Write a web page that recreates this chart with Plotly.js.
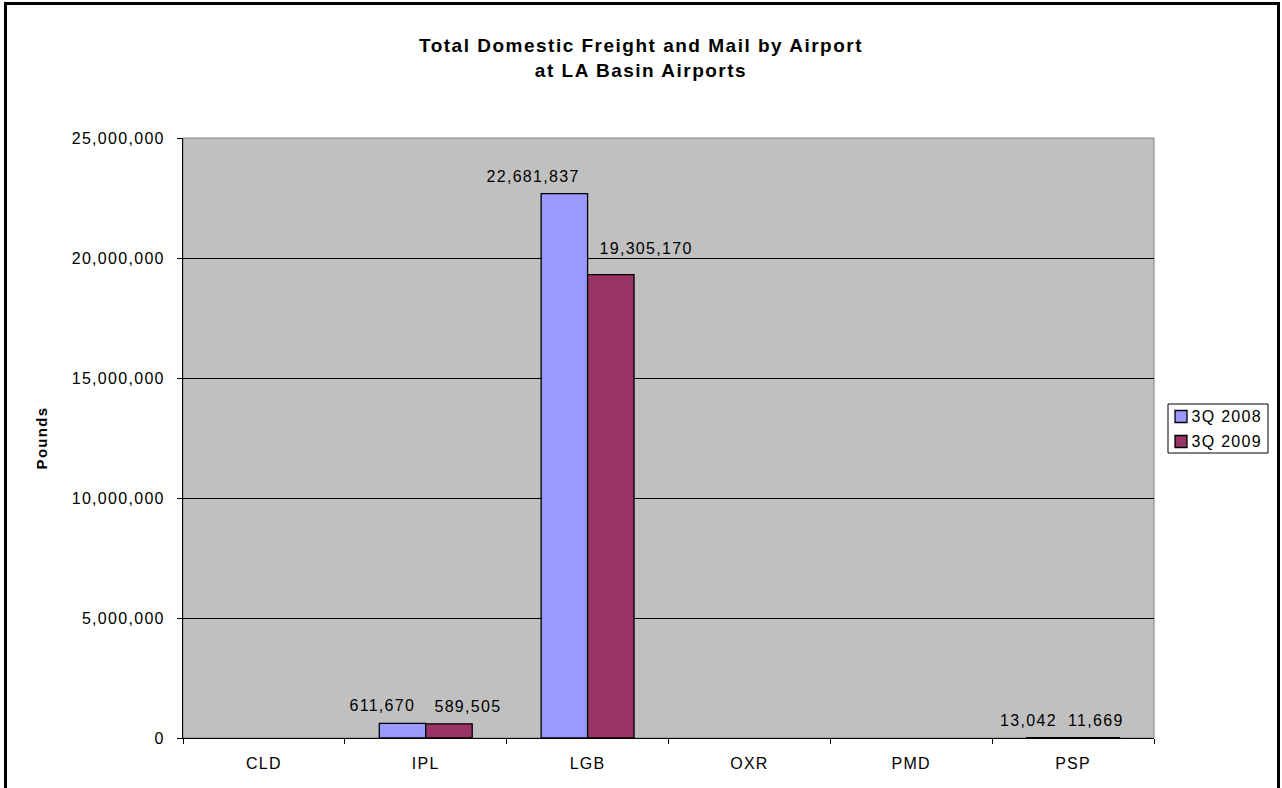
<!DOCTYPE html>
<html>
<head>
<meta charset="utf-8">
<script src="https://cdn.plot.ly/plotly-3.0.1.min.js"></script>
<style>
  html, body { margin: 0; padding: 0; background: #fff; overflow: hidden; }
  #chart { width: 1282px; height: 788px; }
  #chart text { letter-spacing: 1.3px; }
  #chart .gtitle { letter-spacing: 1.5px; }
  #frame { position: absolute; left: 4px; top: 2px; width: 1270px; height: 820px; border: 3px solid #000; pointer-events: none; }
</style>
</head>
<body>
<div id="chart"></div>
<div id="frame"></div>
<script>
const airports = ["CLD", "IPL", "LGB", "OXR", "PMD", "PSP"];
const q3_2008 = [null, 611670, 22681837, null, null, 13042];
const q3_2009 = [null, 589505, 19305170, null, null, 11669];
const seriesNames = ["3Q 2008", "3Q 2009"];
const seriesColors = ["#9999FF", "#993366"];

const FONT = "Arial, 'Liberation Sans', sans-serif";

const traces = [q3_2008, q3_2009].map((vals, i) => ({
  type: "bar",
  name: seriesNames[i],
  x: airports,
  y: vals,
  marker: { color: seriesColors[i], line: { color: "#000", width: 1.3 } },
  showlegend: false,
  hoverinfo: "x+y+name"
}));

// data labels as annotations (Excel labels are nudged sideways from the bar centres)
const fmt = v => v.toLocaleString("en-US");
const annotations = [];
const shift2008 = { IPL: -20, LGB: -32, PSP: -22 };
const shift2009 = { IPL: 19, LGB: 35, PSP: 0 };
const lift2009 = { IPL: 0, LGB: 9, PSP: 0 };
airports.forEach((a, k) => {
  if (q3_2008[k] != null) {
    annotations.push({ x: a, y: q3_2008[k], xref: "x", yref: "y", text: fmt(q3_2008[k]),
      showarrow: false, yanchor: "bottom", xshift: -23 + shift2008[a], yshift: 7,
      font: { family: FONT, size: 16, color: "#000" } });
  }
  if (q3_2009[k] != null) {
    annotations.push({ x: a, y: q3_2009[k], xref: "x", yref: "y", text: fmt(q3_2009[k]),
      showarrow: false, yanchor: "bottom", xshift: 23 + shift2009[a], yshift: 7 + lift2009[a],
      font: { family: FONT, size: 16, color: "#000" } });
  }
});

// custom compact legend (Excel style), placed in paper coordinates
const PL = 183, PW = 971, PB = 738, PH = 600;
const px = v => (v - PL) / PW;
const py = v => (PB - v) / PH;
const shapes = [{
  type: "rect", xref: "paper", yref: "paper", x0: 0, x1: 1, y0: 0, y1: 1,
  line: { color: "#808080", width: 1 }, layer: "below"
}, {
  type: "rect", xref: "paper", yref: "paper",
  x0: px(1168), x1: px(1268), y0: py(453), y1: py(404),
  fillcolor: "#fff", line: { color: "#000", width: 1 }
}];
seriesNames.forEach((name, i) => {
  const cy = 416.5 + i * 25;
  shapes.push({
    type: "rect", xref: "paper", yref: "paper",
    x0: px(1175), x1: px(1187), y0: py(cy + 6), y1: py(cy - 6),
    fillcolor: seriesColors[i], line: { color: "#000", width: 1.3 }
  });
  annotations.push({
    xref: "paper", yref: "paper", x: px(1194), y: py(cy), xanchor: "left", yanchor: "middle",
    text: name, showarrow: false, font: { family: FONT, size: 16, color: "#000" }
  });
});

const layout = {
  width: 1282, height: 788,
  margin: { l: 183, r: 128, t: 138, b: 50, autoexpand: false },
  paper_bgcolor: "#fff",
  plot_bgcolor: "#C0C0C0",
  font: { family: FONT, size: 16, color: "#000" },
  title: {
    text: "<b>Total Domestic Freight and Mail by Airport<br>at LA Basin Airports</b>",
    font: { family: FONT, size: 19, color: "#000" },
    x: 0.5, xref: "container", xanchor: "center",
    y: 1 - 52 / 788, yref: "container", yanchor: "top"
  },
  barmode: "group",
  bargap: 0.426,
  bargroupgap: 0,
  xaxis: {
    type: "category",
    showline: true, linecolor: "#000", linewidth: 1,
    ticks: "outside", tickson: "boundaries", ticklen: 5, tickcolor: "#000",
    ticklabelstandoff: 11,
    showgrid: false, zeroline: false,
    tickfont: { family: FONT, size: 16, color: "#000" },
    automargin: false
  },
  yaxis: {
    range: [0, 25000000], dtick: 5000000, tick0: 0,
    tickformat: ",d",
    showline: true, linecolor: "#000", linewidth: 1,
    ticks: "outside", ticklen: 5, tickcolor: "#000",
    ticklabelstandoff: 9,
    showgrid: true, gridcolor: "#000", gridwidth: 1,
    zeroline: false,
    tickfont: { family: FONT, size: 16, color: "#000" },
    title: { text: "<b>Pounds</b>", font: { family: FONT, size: 15, color: "#000" }, standoff: 33 },
    automargin: false
  },
  showlegend: false,
  shapes: shapes,
  annotations: annotations
};

Plotly.newPlot("chart", traces, layout, { displayModeBar: false, staticPlot: true });
</script>
</body>
</html>
